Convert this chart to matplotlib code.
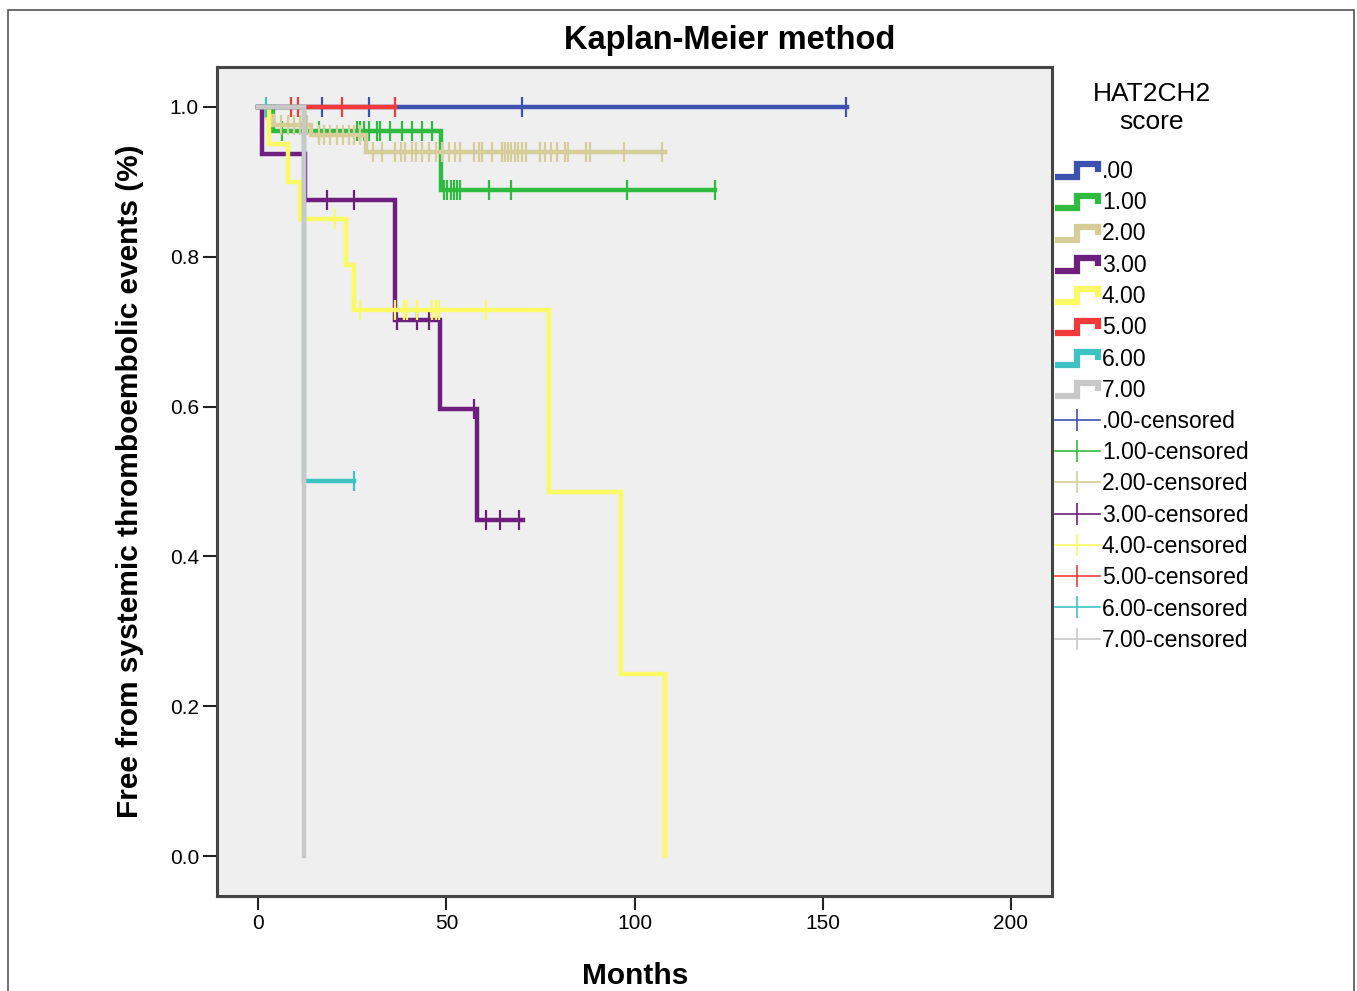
import matplotlib
matplotlib.use('Agg')
import matplotlib.pyplot as plt
from matplotlib.legend_handler import HandlerBase
from matplotlib.lines import Line2D
from matplotlib.patches import Rectangle
import numpy as np

plt.rcParams['font.family'] = ['Liberation Sans', 'DejaVu Sans']

# HAT2CH2 score groups
groups = ['.00', '1.00', '2.00', '3.00', '4.00', '5.00', '6.00', '7.00']
colors = ['#3d52b0', '#2fbb3f', '#d6cd98', '#6e1f7d', '#fbfa64', '#f23a3a', '#3fc2c4', '#c8c8c8']

# step points (months, survival) and censored times
t0 = [0, 156.5]
s0 = [1.0, 1.0]
c0 = [17, 29.3, 70, 156.3]

t1 = [0, 4, 48.5, 121.5]
s1 = [1.0, 0.968, 0.889, 0.889]
c1 = [6.3, 16, 26.2, 27.1, 28, 29.3, 31.5, 32.4, 35.1, 38.2, 40.8, 43.5, 46.1,
      49.3, 50.2, 51.2, 51.9, 52.8, 53.7, 61.3, 67.2, 98, 121.3]

t2 = [0, 2, 4, 14, 28.5, 108]
s2 = [1.0, 0.987, 0.975, 0.962, 0.94, 0.94]
c2 = [6, 8, 9.5, 11, 13, 16, 17.5, 19, 21, 22.5, 24, 25.5, 27,
      30.5, 33, 36.4, 37.8, 39.1, 40.9, 41.8, 43.5, 45.3, 47.1, 48.8, 50.6, 52.4,
      53.7, 57.3, 58.6, 59.5, 62.1, 64.8, 65.6, 66.4, 67.2, 68.1, 68.9, 70.1, 71.2,
      75, 76.3, 77.7, 79.4, 81.6, 82.3, 87.2, 88.1, 97.2, 107.4]

t3 = [0, 1, 12.5, 36.2, 48.4, 58.2, 70.3]
s3 = [1.0, 0.9375, 0.875, 0.716, 0.597, 0.448, 0.448]
c3 = [18.3, 25.3, 36.8, 42.2, 45.3, 57.3, 60.4, 64.2, 69.2]

t4 = [0, 2.8, 8, 11, 23.4, 25.4, 77.3, 96.3, 108.2]
s4 = [1.0, 0.95, 0.90, 0.85, 0.789, 0.729, 0.486, 0.243, 0.0]
c4 = [12.1, 20.3, 27.1, 36.2, 38.7, 39.4, 42.2, 46.1, 47.1, 47.9, 60.4]

t5 = [0, 36.2]
s5 = [1.0, 1.0]
c5 = [8.8, 10.6, 22.3, 36.2]

t6 = [0, 12, 25.3]
s6 = [1.0, 0.5, 0.5]
c6 = [2.1, 25.3]

t7 = [0, 12]
s7 = [1.0, 0.0]
c7 = []

curves = [(t0, s0, c0), (t1, s1, c1), (t2, s2, c2), (t3, s3, c3),
          (t4, s4, c4), (t5, s5, c5), (t6, s6, c6), (t7, s7, c7)]


class StepLine(Line2D):
    pass


class StepHandler(HandlerBase):
    def create_artists(self, legend, orig_handle, xdescent, ydescent,
                       width, height, fontsize, trans):
        x0, y0 = -xdescent, -ydescent
        xs = [x0, x0 + 0.5 * width, x0 + 0.5 * width, x0 + 0.97 * width, x0 + 0.97 * width]
        ys = [y0 + 0.05 * height, y0 + 0.05 * height, y0 + 0.85 * height,
              y0 + 0.85 * height, y0 + 0.35 * height]
        ln = Line2D(xs, ys, color=orig_handle.get_color(), lw=orig_handle.get_linewidth(),
                    solid_joinstyle='miter', solid_capstyle='butt')
        ln.set_transform(trans)
        return [ln]


fig = plt.figure(figsize=(13.57, 9.91), dpi=100)
fig.patches.append(Rectangle((8 / 1357, -0.02), 1346 / 1357, 1 - 10 / 991 + 0.02,
                             transform=fig.transFigure, fill=False,
                             edgecolor='#555555', lw=1.2))

ax = fig.add_axes([217 / 1357, 1 - 896 / 991, (1052 - 217) / 1357, (896 - 67) / 991])
ax.set_facecolor('#efefef')

for (t, s, c), col in zip(curves, colors):
    ax.plot(t, s, drawstyle='steps-post', color=col, lw=3.2, solid_joinstyle='miter')
    if c:
        idx = np.searchsorted(t, c, side='right') - 1
        ys = np.array(s)[np.clip(idx, 0, len(s) - 1)]
        ax.plot(c, ys, ls='none', marker='|', ms=14, mew=1.6, color=col)

ax.set_xlim(-11, 211)
ax.set_ylim(-0.053, 1.053)
ax.set_xticks([0, 50, 100, 150, 200])
ax.set_yticks([0, 0.2, 0.4, 0.6, 0.8, 1.0])
ax.set_yticklabels(['0.0', '0.2', '0.4', '0.6', '0.8', '1.0'])
ax.tick_params(direction='out', length=10, width=1.5, labelsize=15, pad=3, color='#222222')
for sp in ax.spines.values():
    sp.set_color('#444444')
    sp.set_linewidth(2.2)

fig.text(730 / 1357, 1 - 40 / 991, 'Kaplan-Meier method', ha='center', va='center',
         fontsize=23.5, fontweight='bold')
fig.text(635 / 1357, 1 - 976 / 991, 'Months', ha='center', va='center',
         fontsize=21.5, fontweight='bold')
fig.text(130 / 1357, 1 - 481 / 991, 'Free from systemic thromboembolic events (%)',
         ha='center', va='center', rotation=90, fontsize=21.5, fontweight='bold')

# legend title, centred over the key
fig.text(1152 / 1357, 1 - 94 / 991, 'HAT2CH2', ha='center', va='center', fontsize=19)
fig.text(1152 / 1357, 1 - 122 / 991, 'score', ha='center', va='center', fontsize=19)

handles = [StepLine([], [], color=col, lw=4.5) for col in colors]
handles += [Line2D([], [], color=col, lw=1.2, marker='|', ms=16, mew=1.2) for col in colors]
labels = groups + [g + '-censored' for g in groups]
fig.legend(handles, labels, loc='upper left', bbox_to_anchor=(1055 / 1357, 1 - 160 / 991),
           frameon=False, fontsize=16.5, handlelength=1.95, handletextpad=0.1,
           labelspacing=0.36, borderpad=0, borderaxespad=0,
           handler_map={StepLine: StepHandler()})

fig.savefig('out.png', dpi=100)
